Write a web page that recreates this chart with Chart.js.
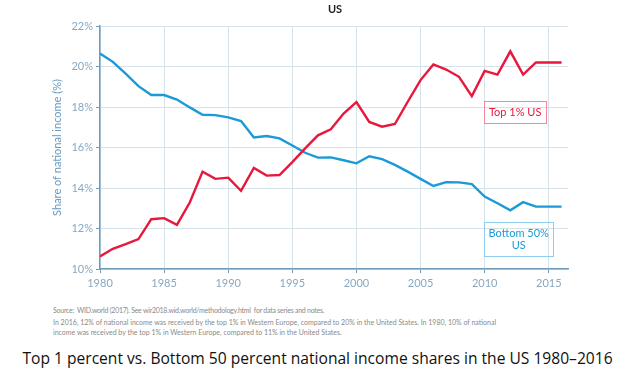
<!DOCTYPE html>
<html><head><meta charset="utf-8">
<script src="https://cdn.jsdelivr.net/npm/chart.js@4.4.1/dist/chart.umd.min.js"></script>
<style>
html,body{margin:0;padding:0;background:#fff;}
#wrap{position:relative;width:635px;height:376px;overflow:hidden;}
#cw{position:absolute;left:0;top:0;width:635px;height:300px;}
.note{position:absolute;left:53px;font-family:Lato,"DejaVu Sans",sans-serif;font-size:7px;color:#8a8a8a;white-space:nowrap;}
#cap{position:absolute;left:0;width:635px;top:347px;text-align:center;font-family:"Open Sans",sans-serif;font-size:15.6px;color:#111;white-space:nowrap;}
</style></head>
<body><div id="wrap">
<div id="cw"><canvas id="c"></canvas></div>
<div class="note" style="top:306px;letter-spacing:-0.25px">Source:&nbsp; WID.world (2017). See wir2018.wid.world/methodology.html&nbsp; for data series and notes.</div>
<div class="note" style="top:318px">In 2016, 12% of national income was received by the top 1% in Western Europe, compared to 20% in the United States. In 1980, 10% of national</div>
<div class="note" style="top:328px">income was received by the top 1% in Western Europe, compared to 11% in the United States.</div>
<div id="cap">Top 1 percent vs. Bottom 50 percent national income shares in the US 1980–2016</div>
</div>
<script>
const years = [1980,1981,1982,1983,1984,1985,1986,1987,1988,1989,1990,1991,1992,1993,1994,1995,1996,1997,1998,1999,2000,2001,2002,2003,2004,2005,2006,2007,2008,2009,2010,2011,2012,2013,2014,2015,2016];
const top1 = [10.62,11.0,11.23,11.48,12.46,12.51,12.18,13.28,14.81,14.45,14.51,13.86,14.99,14.61,14.64,15.28,15.96,16.6,16.9,17.68,18.24,17.26,17.03,17.16,18.26,19.33,20.1,19.85,19.49,18.54,19.78,19.6,20.75,19.6,20.2,20.2,20.2];
const bottom50 = [20.64,20.23,19.65,19.03,18.59,18.59,18.37,17.98,17.62,17.6,17.49,17.31,16.5,16.57,16.45,16.1,15.74,15.5,15.51,15.37,15.22,15.57,15.43,15.14,14.81,14.45,14.1,14.29,14.28,14.19,13.58,13.25,12.9,13.3,13.08,13.08,13.08];
const yTicks = [10,12,14,16,18,20,22];
const xTicks = [1980,1985,1990,1995,2000,2005,2010,2015];
const seriesNames = ['Top 1% US','Bottom 50%\nUS'];
const chartTitle = 'US';
const yTitle = 'Share of national income (%)';

const RED = '#e8173c', BLUE = '#1a9ad7';
const labelColor = '#88a8c0';
const gridColor = '#d6e2ea';

const boxPlugin = {
  id:'boxes',
  afterDraw(chart){
    const {ctx, scales:{x,y}} = chart;
    ctx.save();
    ctx.font = 'bold 11px Lato, sans-serif';
    ctx.fillStyle = '#222';
    ctx.textAlign='center'; ctx.textBaseline='middle';
    ctx.fillText(chartTitle, (chart.chartArea.left+chart.chartArea.right)/2+1, 9);
    const boxes = [
      {lines:seriesNames[0].split('\n'), x0:2010, y0:18.3, w:62, h:22, color:RED, border:'#f2889a'},
      {lines:seriesNames[1].split('\n'), x0:2010, y0:12.3, w:69, h:34, color:BLUE, border:'#8fcdec'}
    ];
    boxes.forEach(b=>{
      const px = x.getPixelForValue(b.x0)-1, py = y.getPixelForValue(b.y0);
      ctx.strokeStyle=b.border; ctx.lineWidth=1;
      ctx.strokeRect(Math.round(px)+0.5, Math.round(py)+0.5, b.w, b.h);
      ctx.fillStyle=b.color; ctx.font='11px Lato, sans-serif';
      const lh=12, n=b.lines.length;
      b.lines.forEach((t,i)=>{
        ctx.fillText(t, px+b.w/2+0.5, py+b.h/2+ (i-(n-1)/2)*lh + 0.5);
      });
    });
    ctx.restore();
  }
};

new Chart(document.getElementById('c'),{
  type:'line',
  data:{datasets:[
    {label:'Top 1% US', data:years.map((yr,i)=>({x:yr,y:top1[i]})), borderColor:RED, borderWidth:2.4, pointRadius:0, tension:0, fill:false},
    {label:'Bottom 50% US', data:years.map((yr,i)=>({x:yr,y:bottom50[i]})), borderColor:BLUE, borderWidth:2.4, pointRadius:0, tension:0, fill:false}
  ]},
  options:{
    responsive:true, maintainAspectRatio:false, animation:false,
    layout:{padding:{top:26,right:67,bottom:0,left:51}},
    plugins:{legend:{display:false}, tooltip:{enabled:false}, title:{display:false}},
    scales:{
      x:{type:'linear', min:1980, max:2016.5,
        afterBuildTicks(s){ s.ticks = xTicks.map(v=>({value:v})); },
        afterFit(s){ s.height = 31; },
        border:{color:'#6f9aba', width:1.5},
        grid:{color:gridColor, borderDash:[1,2], drawTicks:true, tickLength:4, tickColor:'#6f9aba', tickBorderDash:[]},
        ticks:{color:labelColor, font:{family:'Lato', size:11}, padding:4, callback:v=>String(v)}
      },
      y:{min:10, max:22,
        afterBuildTicks(s){ s.ticks = yTicks.map(v=>({value:v})); },
        afterFit(s){ s.width = 49; },
        border:{color:'#6f9aba', width:1.5},
        grid:{color:gridColor, borderDash:[1,2], drawTicks:true, tickLength:4, tickColor:'#6f9aba', tickBorderDash:[]},
        ticks:{color:labelColor, font:{family:'Lato', size:11}, padding:3, callback:v=>v+'%'},
        title:{display:true, text:yTitle, color:'#6499c0', font:{family:'Lato', size:11}, padding:{top:0,bottom:4}}
      }
    }
  },
  plugins:[boxPlugin]
});
</script>
</body></html>
